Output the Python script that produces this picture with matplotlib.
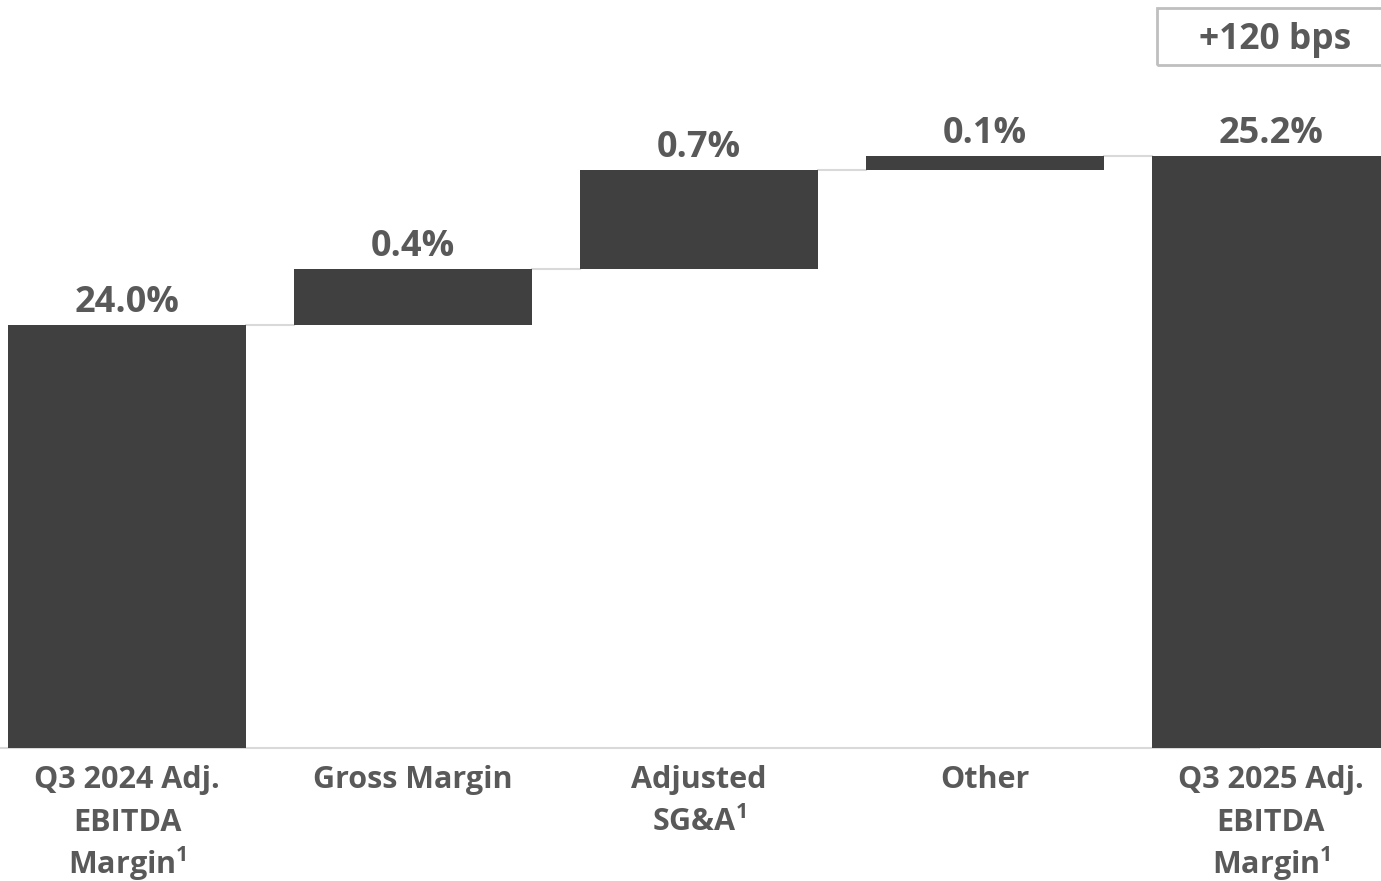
import matplotlib.pyplot as plt
from matplotlib.patches import Rectangle

plt.rcParams["mathtext.fontset"] = "custom"
plt.rcParams["mathtext.rm"] = "Open Sans:bold"
plt.rcParams["mathtext.default"] = "rm"

categories = ["Q3 2024 Adj.\nEBITDA\nMargin$^{1}$", "Gross Margin", "Adjusted\nSG&A$^{1}$",
              "Other", "Q3 2025 Adj.\nEBITDA\nMargin$^{1}$"]
start_value = 24.0
deltas = [0.4, 0.7, 0.1]
end_value = 25.2
value_labels = ["24.0%", "0.4%", "0.7%", "0.1%", "25.2%"]
change_label = "+120 bps"

BAR_COLOR = "#404040"
TEXT_COLOR = "#595959"
LINE_COLOR = "#D9D9D9"
FONT = "Open Sans"
Y_FLOOR = 21.0

# bottoms and heights for the waterfall
bottoms = [Y_FLOOR]
heights = [start_value - Y_FLOOR]
level = start_value
for d in deltas:
    bottoms.append(level)
    heights.append(d)
    level += d
bottoms.append(Y_FLOOR)
heights.append(end_value - Y_FLOOR)
tops = [b + h for b, h in zip(bottoms, heights)]

fig = plt.figure(figsize=(13.81, 8.81), dpi=100)
ax = fig.add_axes([0, 0, 1, 1])
ax.set_xlim(-0.444, 4.385)
ax.set_ylim(20.055, 26.31)
ax.axis("off")

x = list(range(len(categories)))
width = 0.832
ax.bar(x, heights, bottom=bottoms, width=width, color=BAR_COLOR, zorder=3)

# connectors between bars
for i in range(len(x) - 1):
    ax.plot([x[i] + width / 2, x[i + 1] - width / 2], [tops[i], tops[i]],
            color=LINE_COLOR, lw=1.5, zorder=2)

# baseline
ax.plot([-0.444, 3.96], [Y_FLOOR, Y_FLOOR], color=LINE_COLOR, lw=1.5, zorder=2)

for xi, top, lab in zip(x, tops, value_labels):
    ax.annotate(lab, (xi, top), xytext=(0, 3), textcoords="offset points",
                ha="center", va="bottom", fontsize=26, fontweight="bold",
                color=TEXT_COLOR, family=FONT)

# category labels, one line at a time so the superscript doesn't shift spacing
for xi, cat in zip(x, categories):
    for j, line in enumerate(cat.split("\n")):
        ax.annotate(line, (xi, Y_FLOOR), xytext=(0, -29 - 31 * j),
                    textcoords="offset points", ha="center", va="baseline",
                    fontsize=22, fontweight="bold", color=TEXT_COLOR, family=FONT)

# change box in the top right corner
box = Rectangle((1157 / 1381, 1 - 65 / 881), 240 / 1381, 57 / 881,
                transform=fig.transFigure, fill=False, edgecolor="#BFBFBF", lw=2)
fig.patches.append(box)
fig.text(1275 / 1381, 1 - 40 / 881, change_label, ha="center", va="center",
         fontsize=25.5, fontweight="bold", color=TEXT_COLOR, family=FONT)

fig.savefig("out.png", dpi=100)
plt.close(fig)
